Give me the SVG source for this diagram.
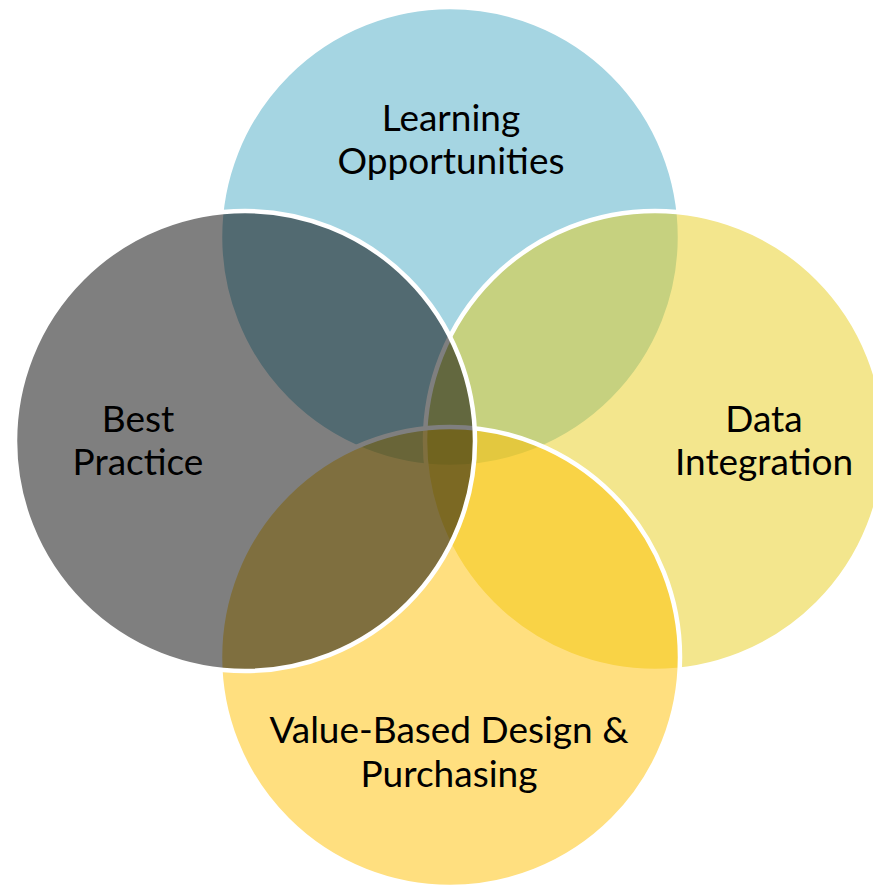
<svg xmlns="http://www.w3.org/2000/svg" width="873" height="886" viewBox="0 0 873 886">
  <style>
    .c { stroke: #FFFFFF; stroke-width: 4.5; fill-opacity: 0.5; }
    .t { font-family: Lato, "Liberation Sans", sans-serif; font-size: 37px; fill: #000000; text-anchor: middle; }
  </style>
  <rect x="0" y="0" width="873" height="886" fill="#FFFFFF"/>
  <g id="learning-opportunities">
    <circle class="c" cx="450" cy="237" r="230" fill="#4BACC6"/>
    <text class="t" x="451" y="131">Learning</text>
    <text class="t" x="451" y="174">Opportunities</text>
  </g>
  <g id="data-integration">
    <circle class="c" cx="655" cy="441" r="230" fill="#E7CD1B"/>
    <text class="t" x="764" y="432">Data</text>
    <text class="t" x="764" y="475">Integration</text>
  </g>
  <g id="value-based-design">
    <circle class="c" cx="450" cy="657" r="230" fill="#FFC000"/>
    <text class="t" x="449" y="743">Value-Based Design &amp;</text>
    <text class="t" x="449" y="787">Purchasing</text>
  </g>
  <g id="best-practice">
    <circle class="c" cx="245" cy="441" r="230" fill="#000000"/>
    <text class="t" x="138" y="432">Best</text>
    <text class="t" x="138" y="475">Practice</text>
  </g>
  <g id="connectors"></g>
</svg>
